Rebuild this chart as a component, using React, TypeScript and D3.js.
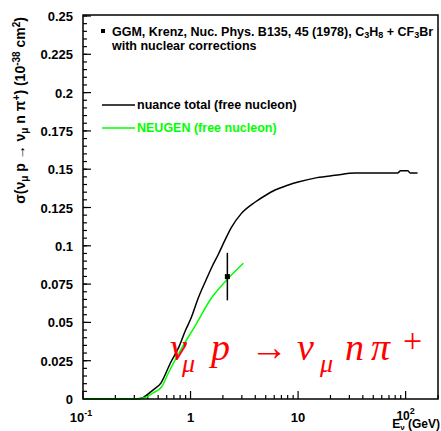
import React from "react";
import * as d3 from "d3";

const W = 441, H = 431;

// nuance total (free nucleon)
const nuanceE = [0.1, 0.3, 0.35, 0.39, 0.45, 0.53, 0.65, 0.78, 0.9, 1.0, 1.19, 1.4, 1.6, 1.8, 2.1, 2.4, 2.96, 4.0, 5.0, 6.1, 8.0, 10, 15, 22, 34, 50, 84, 90, 105, 110, 129];
const nuanceS = [0, 0, 0.0005, 0.0026, 0.006, 0.0104, 0.0235, 0.034, 0.045, 0.052, 0.0666, 0.078, 0.087, 0.094, 0.104, 0.112, 0.121, 0.1286, 0.133, 0.1364, 0.1395, 0.1416, 0.1445, 0.146, 0.1475, 0.1475, 0.1475, 0.149, 0.149, 0.1475, 0.1475];

// NEUGEN (free nucleon)
const neugenE = [0.1, 0.3, 0.38, 0.45, 0.54, 0.62, 0.86, 1.14, 1.52, 2.17, 3.1];
const neugenS = [0, 0, 0.001, 0.004, 0.008, 0.0168, 0.0352, 0.0494, 0.0646, 0.0777, 0.0886];

// GGM data point
const dataE = [2.2];
const dataS = [0.0799];
const dataErr = [0.0155];

const yTicks = [0, 0.025, 0.05, 0.075, 0.1, 0.125, 0.15, 0.175, 0.2, 0.225, 0.25];
const yTickLabels = ["0", "0.025", "0.05", "0.075", "0.1", "0.125", "0.15", "0.175", "0.2", "0.225", "0.25"];

export default function App() {
  const L = 83, R = 438, T = 16, B = 399;
  const x = d3.scaleLog().domain([0.1, 200]).range([L, R]);
  const y = d3.scaleLinear().domain([0, 0.25]).range([B, T]);

  const line = d3.line<[number, number]>().x(d => x(d[0])).y(d => y(d[1])).curve(d3.curveMonotoneX);
  const nuancePts = nuanceE.map((e, i) => [e, nuanceS[i]] as [number, number]);
  const neugenPts = neugenE.map((e, i) => [e, neugenS[i]] as [number, number]);

  const yMinor: number[] = [];
  for (let v = 0; v <= 0.25 + 1e-9; v += 0.005) yMinor.push(v);
  const xMinor: number[] = [];
  for (let dec = 0.1; dec < 200; dec *= 10) {
    for (let k = 2; k <= 9; k++) {
      const v = dec * k;
      if (v <= 200) xMinor.push(v);
    }
  }
  const xMajor = [0.1, 1, 10, 100];

  const lab = { fontFamily: "Liberation Sans, Arial, sans-serif", fontWeight: 700 as const };
  const redFont = "Liberation Serif, Times New Roman, serif";

  return (
    <svg width={W} height={H} style={{ position: "absolute", left: 0, top: 0, background: "#fff" }}>
      <rect x={0} y={0} width={W} height={H} fill="#fff" />
      {/* minor y ticks */}
      {yMinor.map((v, i) => (
        <line key={"ym" + i} x1={L} x2={L + 4} y1={y(v)} y2={y(v)} stroke="#000" strokeWidth={1.2} />
      ))}
      {yTicks.map((v, i) => (
        <line key={"yM" + i} x1={L} x2={L + 8} y1={y(v)} y2={y(v)} stroke="#000" strokeWidth={1.2} />
      ))}
      {xMinor.map((v, i) => (
        <line key={"xm" + i} x1={x(v)} x2={x(v)} y1={B} y2={B - 4} stroke="#000" strokeWidth={1.2} />
      ))}
      {xMajor.map((v, i) => (
        <line key={"xM" + i} x1={x(v)} x2={x(v)} y1={B} y2={B - 8} stroke="#000" strokeWidth={1.2} />
      ))}
      {/* y tick labels */}
      {yTicks.map((v, i) => (
        <text key={"yl" + i} x={73} y={y(v) + 5} textAnchor="end" fontSize={13} {...lab}>{yTickLabels[i]}</text>
      ))}
      {/* x tick labels */}
      <text x={x(0.1) - 2} y={422} textAnchor="middle" fontSize={13} {...lab}>
        10<tspan dy={-6} fontSize={9}>-1</tspan>
      </text>
      <text x={x(1)} y={422} textAnchor="middle" fontSize={13} {...lab}>1</text>
      <text x={x(10)} y={422} textAnchor="middle" fontSize={13} {...lab}>10</text>
      <text x={x(100)} y={420} textAnchor="middle" fontSize={12} {...lab}>
        10<tspan dy={-6} fontSize={9}>2</tspan>
      </text>
      {/* x title */}
      <text x={440} y={428} textAnchor="end" fontSize={12} {...lab}>
        E<tspan dy={2} fontSize={8}>ν</tspan><tspan dy={-2}> (GeV)</tspan>
      </text>
      {/* y title */}
      <text transform="rotate(-90)" x={-17} y={25} textAnchor="end" fontSize={14} {...lab}>
        σ(ν<tspan dy={3} fontSize={10}>μ</tspan><tspan dy={-3}> p → ν</tspan><tspan dy={3} fontSize={10}>μ</tspan><tspan dy={-3}> n π</tspan><tspan dy={-5} fontSize={10}>+</tspan><tspan dy={5}>) (10</tspan><tspan dy={-5} fontSize={10}>-38</tspan><tspan dy={5}> cm</tspan><tspan dy={-5} fontSize={10}>2</tspan><tspan dy={5}>)</tspan>
      </text>

      {/* curves */}
      <path d={line(nuancePts) || ""} fill="none" stroke="#000" strokeWidth={1.5} />
      <path d={line(neugenPts) || ""} fill="none" stroke="#00ff00" strokeWidth={1.5} />

      {/* data point */}
      {dataE.map((e, i) => (
        <g key={"d" + i}>
          <line x1={x(e)} x2={x(e)} y1={y(dataS[i] + dataErr[i])} y2={y(dataS[i] - dataErr[i])} stroke="#000" strokeWidth={1.5} />
          <rect x={x(e) - 2.5} y={y(dataS[i]) - 2.5} width={5} height={5} fill="#000" />
        </g>
      ))}

      {/* frame */}
      <rect x={L} y={T - 1} width={R - L} height={B - T + 1} fill="none" stroke="#000" strokeWidth={1.5} />

      {/* legend */}
      <rect x={101} y={29} width={4} height={4} fill="#000" />
      <text x={112} y={36} fontSize={12.5} {...lab}>
        GGM, Krenz, Nuc. Phys. B135, 45 (1978), C<tspan dy={2} fontSize={9}>3</tspan><tspan dy={-2}>H</tspan><tspan dy={2} fontSize={9}>8</tspan><tspan dy={-2}> + CF</tspan><tspan dy={2} fontSize={9}>3</tspan><tspan dy={-2}>Br</tspan>
      </text>
      <text x={112} y={50} fontSize={12.5} {...lab}>with nuclear corrections</text>
      <line x1={102} x2={135} y1={105} y2={105} stroke="#000" strokeWidth={1.5} />
      <text x={137} y={109} fontSize={12.5} {...lab}>nuance total (free nucleon)</text>
      <line x1={102} x2={135} y1={128} y2={128} stroke="#00ff00" strokeWidth={1.5} />
      <text x={137} y={132} fontSize={12.5} {...lab} fill="#00ff00">NEUGEN (free nucleon)</text>

      {/* red label */}
      <g fill="#ff0000" fontFamily={redFont}>
        <text x={170} y={360} fontSize={38} fontStyle="italic">ν</text>
        <text x={182} y={372} fontSize={26} fontStyle="italic">μ</text>
        <text x={211} y={360} fontSize={38} fontStyle="italic">p</text>
        <text x={250} y={360} fontSize={38} textLength={38} lengthAdjust="spacingAndGlyphs">→</text>
        <text x={297} y={360} fontSize={38} fontStyle="italic">ν</text>
        <text x={320} y={372} fontSize={26} fontStyle="italic">μ</text>
        <text x={345} y={360} fontSize={38} fontStyle="italic">n</text>
        <text x={371} y={360} fontSize={38} fontStyle="italic">π</text>
        <text x={403} y={352} fontSize={34}>+</text>
      </g>
    </svg>
  );
}
